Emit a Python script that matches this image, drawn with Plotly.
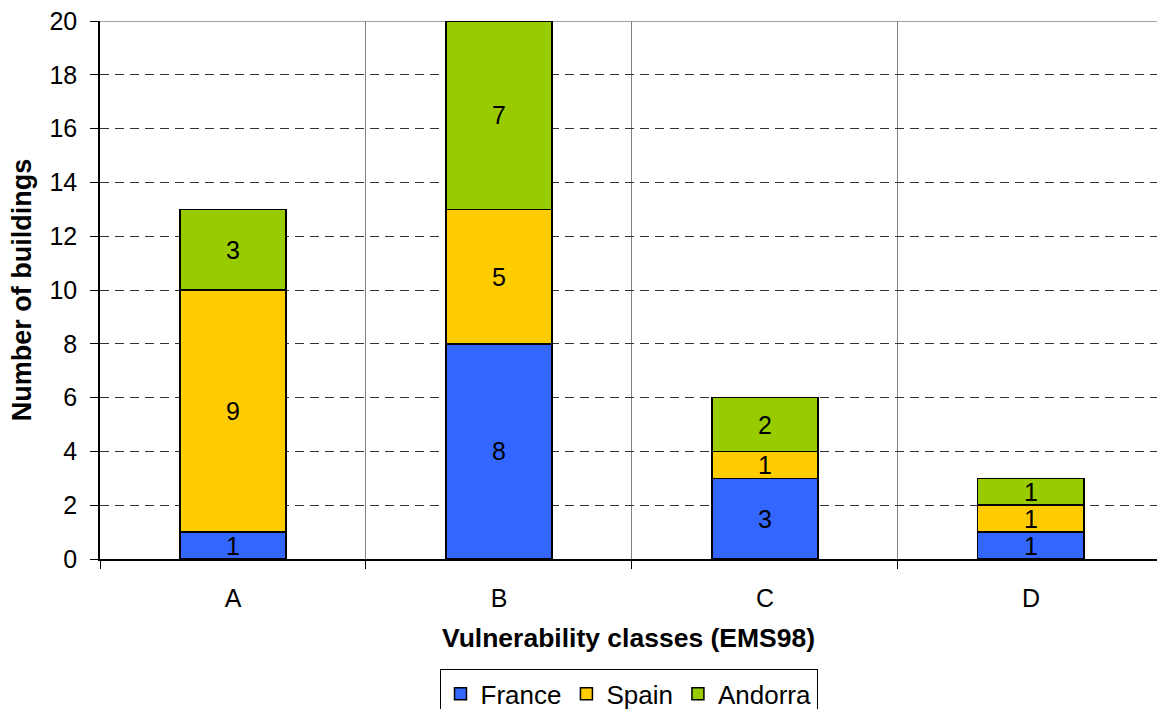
import plotly.graph_objects as go

# Vulnerability classes and building counts per country
classes = ["A", "B", "C", "D"]
france = [1, 8, 3, 1]
spain = [9, 5, 1, 1]
andorra = [3, 7, 2, 1]

series = [
    ("France", france, "#3366FF"),
    ("Spain", spain, "#FFCC00"),
    ("Andorra", andorra, "#99CC00"),
]

FONT = "Liberation Sans, Arial, sans-serif"
positions = list(range(len(classes)))

fig = go.Figure()
for name, vals, color in series:
    fig.add_trace(go.Bar(
        name=name,
        x=positions,
        y=vals,
        width=0.4,
        marker=dict(color=color, line=dict(color="#000000", width=1.5)),
        text=[str(v) for v in vals],
        textposition="inside",
        insidetextanchor="middle",
        textangle=0,
        textfont=dict(family=FONT, size=25, color="#000000"),
    ))

fig.update_layout(
    barmode="stack",
    width=1157,
    height=709,
    margin=dict(l=100, r=0, t=21, b=150, autoexpand=False),
    paper_bgcolor="white",
    plot_bgcolor="white",
    font=dict(family=FONT, size=25, color="#000000"),
    uniformtext=dict(minsize=25, mode="show"),
    showlegend=True,
    legend=dict(
        orientation="h",
        x=0.5, xanchor="center",
        yref="container",
        y=0.056, yanchor="top",
        bordercolor="#000000", borderwidth=1,
        font=dict(family=FONT, size=26, color="#000000"),
        traceorder="normal",
        itemwidth=30,
        tracegroupgap=0,
    ),
    shapes=[dict(type="line", xref="paper", yref="y", x0=0, x1=1, y0=20, y1=20,
                 line=dict(color="#808080", width=1.5), layer="below")],
)

fig.update_xaxes(
    range=[-0.5, 3.474],
    tickmode="array",
    tickvals=positions,
    ticktext=classes,
    ticks="",
    ticklabelstandoff=16,
    showgrid=False,
    showline=True, linecolor="#000000", linewidth=1.5,
    zeroline=False,
    automargin=False,
    tickfont=dict(family=FONT, size=25),
    minor=dict(tick0=-0.5, dtick=1, ticks="outside", ticklen=8,
               tickcolor="#000000", showgrid=True, gridcolor="#808080", gridwidth=1),
    title=dict(text="<b>Vulnerability classes (EMS98)</b>",
               font=dict(family=FONT, size=26.5), standoff=18),
)

fig.update_yaxes(
    range=[0, 20],
    dtick=2,
    ticks="outside", ticklen=8, tickcolor="#000000",
    ticklabelstandoff=8,
    showline=True, linecolor="#000000", linewidth=1.5,
    showgrid=True, gridcolor="#333333", griddash="9px,6px", gridwidth=1,
    zeroline=False,
    automargin=False,
    tickfont=dict(family=FONT, size=25),
    title=dict(text="<b>Number of buildings</b>",
               font=dict(family=FONT, size=27), standoff=10),
)

fig.write_html("out.html")
